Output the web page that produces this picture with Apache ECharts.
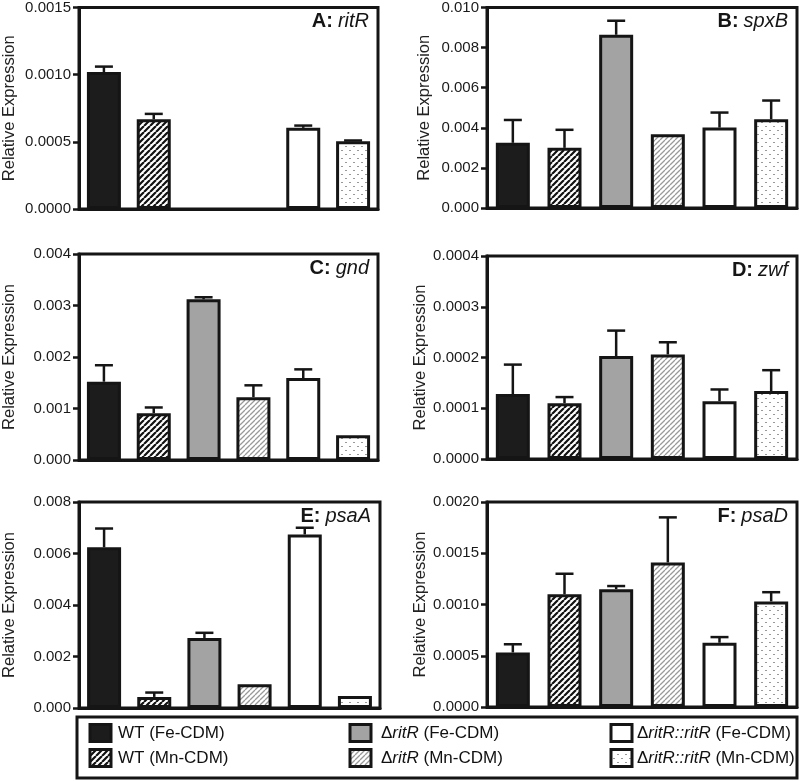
<!DOCTYPE html>
<html>
<head>
<meta charset="utf-8">
<script src="https://cdn.jsdelivr.net/npm/echarts@6/dist/echarts.min.js"></script>
<style>
html,body{margin:0;padding:0;background:#fff}
#chart{width:800px;height:781px}
</style>
</head>
<body>
<div id="chart"></div>
<script>
// strains / growth conditions, same order in every panel
var groups = ['WT (Fe-CDM)', 'WT (Mn-CDM)', 'ΔritR (Fe-CDM)', 'ΔritR (Mn-CDM)', 'ΔritR::ritR (Fe-CDM)', 'ΔritR::ritR (Mn-CDM)'];

var letters = ['A', 'B', 'C', 'D', 'E', 'F'];
var genes = ['ritR', 'spxB', 'gnd', 'zwf', 'psaA', 'psaD'];

// relative expression (mean) and error (upper bar length), null = not measured / no bar
var ritR    = [0.00102, 0.000668, null, null, 0.000604, 0.000505];
var ritRErr = [0.00004, 0.00004, null, null, 0.000017, 0.000005];
var spxB    = [0.00325, 0.0030, 0.00864, 0.00368, 0.00401, 0.00443];
var spxBErr = [0.00114, 0.0009, 0.0007, null, 0.00075, 0.00093];
var gnd     = [0.00152, 0.00091, 0.00312, 0.00122, 0.00159, 0.00048];
var gndErr  = [0.00032, 0.00011, 0.00004, 0.00023, 0.00017, null];
var zwf     = [0.000128, 0.000110, 0.000203, 0.000206, 0.000114, 0.000134];
var zwfErr  = [0.000058, 0.000012, 0.00005, 0.000024, 0.000023, 0.000041];
var psaA    = [0.00624, 0.00043, 0.00272, 0.00092, 0.00674, 0.00047];
var psaAErr = [0.00073, 0.00017, 0.0002, null, 0.00026, null];
var psaD    = [0.000532, 0.0011, 0.00115, 0.00141, 0.000627, 0.00103];
var psaDErr = [0.00008, 0.0002, 0.00003, 0.00044, 0.000055, 0.00009];

// y axis ticks
var yMax = [0.0015, 0.010, 0.004, 0.0004, 0.008, 0.002];
var yStep = [0.0005, 0.002, 0.001, 0.0001, 0.002, 0.0005];
var yDigits = [4, 3, 3, 4, 3, 4];

var means = [ritR, spxB, gnd, zwf, psaA, psaD];
var errs = [ritRErr, spxBErr, gndErr, zwfErr, psaAErr, psaDErr];

var FONT = '"Liberation Sans", Arial, sans-serif';
var INK = '#151515';

function hatch(size, bg, fg, w) {
    var c = document.createElement('canvas');
    c.width = c.height = size;
    var ctx = c.getContext('2d');
    ctx.fillStyle = bg;
    ctx.fillRect(0, 0, size, size);
    ctx.strokeStyle = fg;
    ctx.lineWidth = w;
    ctx.beginPath();
    [-size, 0, size].forEach(function (k) {
        ctx.moveTo(k, size);
        ctx.lineTo(k + size, 0);
    });
    ctx.stroke();
    return {image: c, repeat: 'repeat'};
}
function dots() {
    var c = document.createElement('canvas');
    c.width = c.height = 8;
    var ctx = c.getContext('2d');
    ctx.fillStyle = '#fff';
    ctx.fillRect(0, 0, 8, 8);
    ctx.fillStyle = '#999';
    ctx.fillRect(1, 2, 2, 1);
    ctx.fillRect(5, 6, 2, 1);
    return {image: c, repeat: 'repeat'};
}
var fills = ['#1c1c1c', hatch(6, '#fff', '#111', 2.2), '#a3a3a3', hatch(5, '#fff', '#999', 1.3), '#ffffff', dots()];

// left, top, width, height of each plot
var boxes = [[77, 7, 301, 202], [487, 7, 310, 201], [78, 254, 300, 206], [487, 256, 310, 203], [78, 502, 302, 206], [487, 502, 310, 205]];

var grid = [], xAxis = [], yAxis = [], series = [], title = [];

boxes.forEach(function (b, p) {
    grid.push({left: b[0], top: b[1], width: b[2], height: b[3], show: true, borderColor: INK, borderWidth: 3, containLabel: false});
    xAxis.push({
        type: 'category', gridIndex: p, data: groups,
        axisLine: {lineStyle: {color: INK, width: 3}},
        axisTick: {show: false}, axisLabel: {show: false}
    });
    yAxis.push({
        type: 'value', gridIndex: p, min: 0, max: yMax[p], interval: yStep[p],
        name: 'Relative Expression', nameLocation: 'middle', nameGap: p % 2 ? 54 : 61,
        nameTextStyle: {fontFamily: FONT, fontSize: 16.5, color: '#222'},
        axisLine: {show: true, lineStyle: {color: INK, width: 3}},
        axisTick: {show: true, length: 6, lineStyle: {color: INK, width: 2.5}},
        axisLabel: {
            fontFamily: FONT, fontSize: 15, color: '#1a1a1a', margin: 8,
            formatter: function (v) { return v.toFixed(yDigits[p]); }
        },
        splitLine: {show: false}
    });
    series.push({
        type: 'bar', xAxisIndex: p, yAxisIndex: p, barWidth: 34,
        itemStyle: {borderColor: INK, borderWidth: 3},
        data: means[p].map(function (v, i) {
            return v == null ? '-' : {value: v, itemStyle: {color: fills[i]}};
        })
    });
    var eb = [];
    means[p].forEach(function (v, i) {
        if (v != null && errs[p][i] != null) eb.push([i, v, v + errs[p][i]]);
    });
    series.push({
        type: 'custom', xAxisIndex: p, yAxisIndex: p, z: 5,
        encode: {x: 0, y: [1, 2]},
        data: eb,
        renderItem: function (params, api) {
            var lo = api.coord([api.value(0), api.value(1)]);
            var hi = api.coord([api.value(0), api.value(2)]);
            var st = {stroke: INK, lineWidth: 2.5};
            return {
                type: 'group', children: [
                    {type: 'line', shape: {x1: lo[0], y1: lo[1], x2: hi[0], y2: hi[1]}, style: st},
                    {type: 'line', shape: {x1: hi[0] - 9, y1: hi[1], x2: hi[0] + 9, y2: hi[1]}, style: st}
                ]
            };
        }
    });
    title.push({
        text: '{l|' + letters[p] + ':} {g|' + genes[p] + '}',
        right: 800 - (b[0] + b[2]) + 9, top: b[1] + 4, padding: 0,
        textStyle: {
            fontWeight: 'normal',
            rich: {
                l: {fontFamily: FONT, fontSize: 20, fontWeight: 'bold', color: INK},
                g: {fontFamily: FONT, fontSize: 20, fontWeight: 'normal', fontStyle: 'italic', color: INK}
            }
        }
    });
});

// legend box drawn by hand
var legendText = [
    '{n|WT (Fe-CDM)}', '{n|WT (Mn-CDM)}',
    '{n|Δ}{i|ritR}{n| (Fe-CDM)}', '{n|Δ}{i|ritR}{n| (Mn-CDM)}',
    '{n|Δ}{i|ritR::ritR}{n| (Fe-CDM)}', '{n|Δ}{i|ritR::ritR}{n| (Mn-CDM)}'
];
var swatchX = [90, 350, 611], textX = [118, 381, 637], rowY = [733, 758];
var graphic = [{
    type: 'rect', shape: {x: 77, y: 717, width: 720, height: 61},
    style: {fill: 'none', stroke: INK, lineWidth: 3}
}];
legendText.forEach(function (t, i) {
    var col = Math.floor(i / 2), row = i % 2;
    graphic.push({
        type: 'rect', shape: {x: swatchX[col], y: rowY[row] - 8.5, width: 21, height: 17},
        style: {fill: fills[i], stroke: INK, lineWidth: 3}
    });
    graphic.push({
        type: 'text', x: textX[col], y: rowY[row],
        style: {
            text: t, verticalAlign: 'middle', align: 'left',
            rich: {
                n: {fontFamily: FONT, fontSize: 17, fill: '#111'},
                i: {fontFamily: FONT, fontSize: 17, fontStyle: 'italic', fill: '#111'}
            }
        }
    });
});

var chart = echarts.init(document.getElementById('chart'), null, {renderer: 'canvas'});
chart.setOption({
    animation: false,
    backgroundColor: '#fff',
    title: title,
    grid: grid,
    xAxis: xAxis,
    yAxis: yAxis,
    series: series,
    graphic: graphic
});
</script>
</body>
</html>
